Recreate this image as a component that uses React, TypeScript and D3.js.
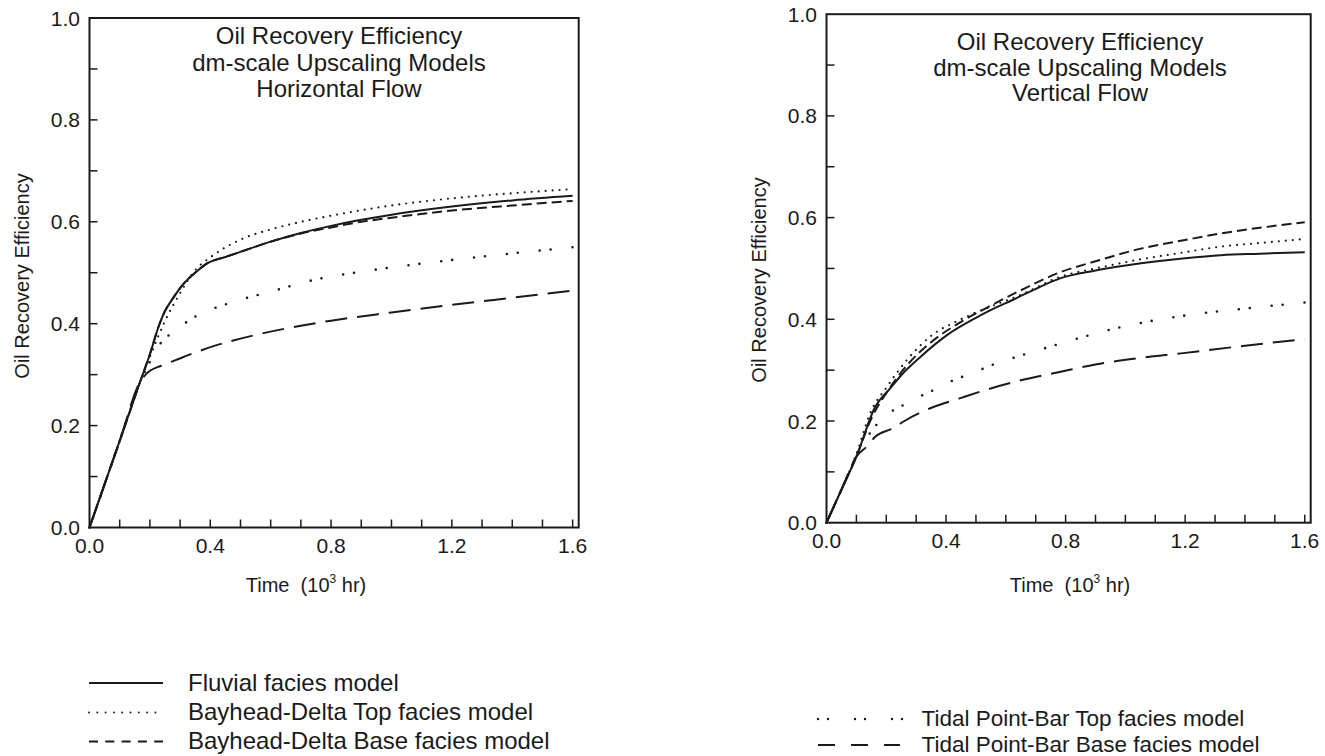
import React from 'react';
import * as d3 from 'd3';

// ---------- tick labels ----------
const xTickLabels = [0, 0.4, 0.8, 1.2, 1.6];
const yTickLabels = [0, 0.2, 0.4, 0.6, 0.8, 1.0];

// ---------- Horizontal flow (left panel) ----------
const hFluvialT = [0, 0.05, 0.1, 0.167, 0.2, 0.228, 0.25, 0.272, 0.3, 0.322, 0.35, 0.388, 0.45, 0.5, 0.6, 0.7, 0.8, 0.9, 1.0, 1.2, 1.4, 1.6];
const hFluvialV = [0, 0.085, 0.17, 0.285, 0.34, 0.393, 0.425, 0.446, 0.47, 0.485, 0.5, 0.518, 0.531, 0.541, 0.561, 0.578, 0.592, 0.604, 0.614, 0.63, 0.642, 0.651];

const hBayTopT = [0, 0.1, 0.167, 0.2, 0.25, 0.3, 0.35, 0.4, 0.5, 0.6, 0.7, 0.8, 1.0, 1.2, 1.4, 1.6];
const hBayTopV = [0, 0.17, 0.285, 0.335, 0.405, 0.46, 0.505, 0.53, 0.565, 0.585, 0.6, 0.612, 0.632, 0.646, 0.656, 0.664];

const hBayBaseT = [0, 0.05, 0.1, 0.167, 0.2, 0.228, 0.25, 0.272, 0.3, 0.322, 0.35, 0.388, 0.45, 0.5, 0.6, 0.7, 0.8, 0.9, 1.0, 1.2, 1.4, 1.6];
const hBayBaseV = [0, 0.085, 0.17, 0.285, 0.34, 0.393, 0.425, 0.446, 0.47, 0.485, 0.5, 0.518, 0.531, 0.541, 0.561, 0.577, 0.589, 0.6, 0.608, 0.622, 0.632, 0.641];

const hTidalTopT = [0, 0.1, 0.167, 0.2, 0.222, 0.283, 0.316, 0.383, 0.421, 0.5, 0.6, 0.744, 0.9, 0.982, 1.1, 1.227, 1.4, 1.6];
const hTidalTopV = [0, 0.17, 0.285, 0.325, 0.35, 0.387, 0.401, 0.424, 0.432, 0.447, 0.463, 0.486, 0.502, 0.509, 0.518, 0.527, 0.538, 0.55];

const hTidalBaseT = [0, 0.1, 0.167, 0.189, 0.239, 0.283, 0.339, 0.416, 0.476, 0.565, 0.7, 0.8, 1.0, 1.2, 1.4, 1.6];
const hTidalBaseV = [0, 0.17, 0.285, 0.302, 0.318, 0.328, 0.341, 0.357, 0.367, 0.38, 0.396, 0.406, 0.422, 0.437, 0.451, 0.465];

// ---------- Vertical flow (right panel) ----------
const vFluvialT = [0, 0.05, 0.1, 0.163, 0.213, 0.25, 0.314, 0.403, 0.5, 0.549, 0.622, 0.7, 0.784, 0.9, 1.052, 1.2, 1.32, 1.45, 1.6];
const vFluvialV = [0, 0.065, 0.13, 0.228, 0.264, 0.29, 0.326, 0.369, 0.403, 0.418, 0.438, 0.46, 0.481, 0.496, 0.51, 0.52, 0.526, 0.529, 0.532];

const vBayTopT = [0, 0.05, 0.1, 0.146, 0.202, 0.269, 0.347, 0.45, 0.549, 0.65, 0.784, 0.9, 1.052, 1.2, 1.32, 1.45, 1.6];
const vBayTopV = [0, 0.065, 0.135, 0.215, 0.267, 0.32, 0.366, 0.4, 0.425, 0.448, 0.484, 0.5, 0.518, 0.532, 0.543, 0.55, 0.558];

const vBayBaseT = [0, 0.05, 0.1, 0.15, 0.2, 0.27, 0.35, 0.45, 0.55, 0.65, 0.784, 0.9, 1.052, 1.2, 1.32, 1.45, 1.6];
const vBayBaseV = [0, 0.065, 0.13, 0.205, 0.255, 0.31, 0.355, 0.395, 0.427, 0.457, 0.493, 0.514, 0.539, 0.556, 0.569, 0.58, 0.591];

const vTidalTopT = [0, 0.05, 0.1, 0.15, 0.202, 0.269, 0.308, 0.381, 0.42, 0.493, 0.532, 0.63, 0.73, 0.85, 0.965, 1.08, 1.206, 1.4, 1.6];
const vTidalTopV = [0, 0.065, 0.13, 0.18, 0.212, 0.235, 0.247, 0.267, 0.279, 0.295, 0.305, 0.325, 0.343, 0.364, 0.382, 0.396, 0.408, 0.421, 0.433];

const vTidalBaseT = [0, 0.05, 0.1, 0.135, 0.163, 0.224, 0.258, 0.347, 0.448, 0.549, 0.65, 0.784, 0.9, 1.05, 1.187, 1.4, 1.6];
const vTidalBaseV = [0, 0.065, 0.13, 0.15, 0.169, 0.186, 0.199, 0.225, 0.245, 0.264, 0.28, 0.297, 0.311, 0.324, 0.333, 0.348, 0.361];

// ---------- labels ----------
const titleLinesH = ['Oil Recovery Efficiency', 'dm-scale Upscaling Models', 'Horizontal Flow'];
const titleLinesV = ['Oil Recovery Efficiency', 'dm-scale Upscaling Models', 'Vertical Flow'];
const legendLeftLabels = ['Fluvial facies model', 'Bayhead-Delta Top facies model', 'Bayhead-Delta Base facies model'];
const legendRightLabels = ['Tidal Point-Bar Top facies model', 'Tidal Point-Bar Base facies model'];

const FONT = '"Liberation Sans", Arial, Helvetica, sans-serif';
const INK = '#1a1a1a';

type Style = { dash?: string; width: number };
const STY: Record<string, Style> = {
  fluvial: { width: 2 },
  bayTop: { dash: '0 7', width: 2.2 },
  bayBase: { dash: '10 5', width: 2 },
  tidalTop: { dash: '0 11 0 22', width: 2.6 },
  tidalBase: { dash: '22 10', width: 2 },
};

const zip = (t: number[], v: number[]) => t.map((d, i) => [d, v[i]] as [number, number]);

type PanelProps = {
  x0: number; x1: number; yTop: number; yBot: number;
  titles: string[]; titleX: number; titleY: number[];
  yLabelX: number; yLabelY: number; xLabelX: number; xLabelY: number;
  series: { key: string; data: [number, number][] }[];
};

function Panel(p: PanelProps) {
  const x = d3.scaleLinear().domain([0, 1.62]).range([p.x0, p.x1]);
  const y = d3.scaleLinear().domain([0, 1]).range([p.yBot, p.yTop]);
  const line = d3.line<[number, number]>().x(d => x(d[0])).y(d => y(d[1])).curve(d3.curveMonotoneX);
  const xMinor = d3.range(1, 17).map(i => i / 10);
  const yMinor = d3.range(1, 10).map(i => i / 10);
  return (
    <g>
      {p.series.map(s => (
        <path key={s.key} d={line(s.data) || ''} fill="none" stroke={INK}
          strokeWidth={STY[s.key].width} strokeDasharray={STY[s.key].dash}
          strokeLinecap={STY[s.key].dash && STY[s.key].dash!.startsWith('0') ? 'round' : 'butt'}
          strokeLinejoin="round" />
      ))}
      {xMinor.map(t => (
        <line key={'xt' + t} x1={x(t)} x2={x(t)} y1={p.yBot} y2={p.yBot - 8} stroke={INK} strokeWidth={1.5} />
      ))}
      {yMinor.map(v => (
        <line key={'yt' + v} x1={p.x0} x2={p.x0 + 8} y1={y(v)} y2={y(v)} stroke={INK} strokeWidth={1.5} />
      ))}
      <rect x={p.x0} y={p.yTop} width={p.x1 - p.x0} height={p.yBot - p.yTop} fill="none" stroke={INK} strokeWidth={2} />
      {xTickLabels.map(t => (
        <text key={'xl' + t} x={x(t)} y={p.yBot + 25.5} textAnchor="middle" fontSize={21} fill={INK} fontFamily={FONT}>{t.toFixed(1)}</text>
      ))}
      {yTickLabels.map(v => (
        <text key={'yl' + v} x={p.x0 - 9.5} y={y(v)} dy="0.36em" textAnchor="end" fontSize={21} fill={INK} fontFamily={FONT}>{v.toFixed(1)}</text>
      ))}
      {p.titles.map((s, i) => (
        <text key={'ti' + i} x={p.titleX} y={p.titleY[i]} textAnchor="middle" fontSize={24} fill={INK} fontFamily={FONT}>{s}</text>
      ))}
      <text transform={`translate(${p.yLabelX},${p.yLabelY}) rotate(-90)`} textAnchor="middle" fontSize={20} fill={INK} fontFamily={FONT}>Oil Recovery Efficiency</text>
      <text x={p.xLabelX} y={p.xLabelY} textAnchor="middle" fontSize={20} fill={INK} fontFamily={FONT} xmlSpace="preserve">
        Time  (10<tspan fontSize={12} dy={-9}>3</tspan><tspan dy={9}> hr)</tspan>
      </text>
    </g>
  );
}

export default function App() {
  const leftSeries = [
    { key: 'fluvial', data: zip(hFluvialT, hFluvialV) },
    { key: 'bayTop', data: zip(hBayTopT, hBayTopV) },
    { key: 'bayBase', data: zip(hBayBaseT, hBayBaseV) },
    { key: 'tidalTop', data: zip(hTidalTopT, hTidalTopV) },
    { key: 'tidalBase', data: zip(hTidalBaseT, hTidalBaseV) },
  ];
  const rightSeries = [
    { key: 'fluvial', data: zip(vFluvialT, vFluvialV) },
    { key: 'bayTop', data: zip(vBayTopT, vBayTopV) },
    { key: 'bayBase', data: zip(vBayBaseT, vBayBaseV) },
    { key: 'tidalTop', data: zip(vTidalTopT, vTidalTopV) },
    { key: 'tidalBase', data: zip(vTidalBaseT, vTidalBaseV) },
  ];
  const legLeftY = [683, 712.5, 741.5];
  const legLeftStyles = [
    { dash: undefined, width: 2, cap: 'butt' },
    { dash: '0 8.3', width: 2, cap: 'round' },
    { dash: '9 7.3', width: 2, cap: 'butt' },
  ];
  const legRightY = [719, 745];
  const legRightStyles = [
    { dash: '0 10 0 27', width: 2.4, cap: 'round', x2: 906 },
    { dash: '17 16', width: 2.2, cap: 'butt', x2: 900 },
  ];
  return (
    <svg width={1325} height={756} style={{ position: 'absolute', left: 0, top: 0, background: '#fff' }}>
      <rect x={0} y={0} width={1325} height={756} fill="#fff" />
      <Panel x0={89.5} x1={578.7} yTop={18} yBot={527.5}
        titles={titleLinesH} titleX={339} titleY={[43.5, 70.5, 97]}
        yLabelX={29} yLabelY={276} xLabelX={306} xLabelY={591.7}
        series={leftSeries} />
      <Panel x0={826.5} x1={1310.7} yTop={14.2} yBot={522.7}
        titles={titleLinesV} titleX={1080} titleY={[49.5, 75.5, 101]}
        yLabelX={766} yLabelY={280} xLabelX={1070} xLabelY={591.7}
        series={rightSeries} />
      {legendLeftLabels.map((s, i) => (
        <g key={'ll' + i}>
          <line x1={89} x2={163} y1={legLeftY[i]} y2={legLeftY[i]} stroke={INK}
            strokeWidth={legLeftStyles[i].width} strokeDasharray={legLeftStyles[i].dash}
            strokeLinecap={legLeftStyles[i].cap as any} />
          <text x={188} y={legLeftY[i] + 7.8} fontSize={24} fill={INK} fontFamily={FONT}>{s}</text>
        </g>
      ))}
      {legendRightLabels.map((s, i) => (
        <g key={'lr' + i}>
          <line x1={818} x2={legRightStyles[i].x2} y1={legRightY[i]} y2={legRightY[i]} stroke={INK}
            strokeWidth={legRightStyles[i].width} strokeDasharray={legRightStyles[i].dash}
            strokeLinecap={legRightStyles[i].cap as any} />
          <text x={921.5} y={legRightY[i] + 7.3} fontSize={22.5} fill={INK} fontFamily={FONT}>{s}</text>
        </g>
      ))}
    </svg>
  );
}
